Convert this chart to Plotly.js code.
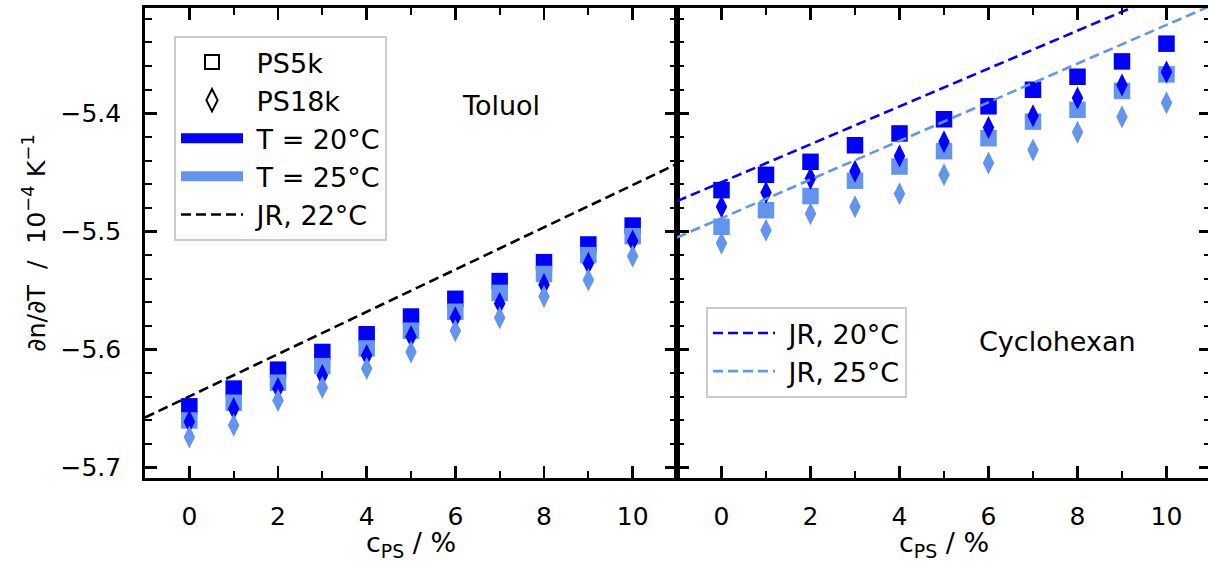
<!DOCTYPE html>
<html>
<head>
<meta charset="utf-8">
<script src="https://cdn.plot.ly/plotly-3.0.1.min.js"></script>
<style>
  html, body { margin: 0; padding: 0; overflow: hidden; background: #fff; }
</style>
</head>
<body>
<div id="chart" style="width:1211px;height:562px"></div>
<script>
// polystyrene concentration c_PS in %
const cps = [0, 1, 2, 3, 4, 5, 6, 7, 8, 9, 10];

// Toluol: dn/dT in 1e-4 K^-1
const tolPS5k20  = [-5.648, -5.633, -5.617, -5.602, -5.587, -5.572, -5.557, -5.542, -5.526, -5.511, -5.495];
const tolPS5k25  = [-5.660, -5.645, -5.628, -5.614, -5.599, -5.584, -5.568, -5.552, -5.536, -5.520, -5.504];
const tolPS18k20 = [-5.661, -5.650, -5.633, -5.622, -5.605, -5.589, -5.573, -5.561, -5.545, -5.527, -5.508];
const tolPS18k25 = [-5.674, -5.664, -5.643, -5.632, -5.616, -5.602, -5.584, -5.573, -5.555, -5.541, -5.521];

// Cyclohexan: dn/dT in 1e-4 K^-1
const cycPS5k20  = [-5.465, -5.452, -5.441, -5.427, -5.417, -5.405, -5.394, -5.380, -5.369, -5.356, -5.341];
const cycPS5k25  = [-5.496, -5.482, -5.470, -5.457, -5.445, -5.432, -5.421, -5.407, -5.397, -5.381, -5.367];
const cycPS18k20 = [-5.479, -5.467, -5.455, -5.449, -5.436, -5.424, -5.412, -5.402, -5.387, -5.376, -5.365];
const cycPS18k25 = [-5.510, -5.499, -5.485, -5.479, -5.468, -5.452, -5.442, -5.431, -5.416, -5.403, -5.391];

// literature reference lines (JR), evaluated at the ends of the c_PS axis
const jrX      = [-1, 11];
const tolJR22  = [-5.6575, -5.4428];
const cycJR20  = [-5.4743, -5.2819];
const cycJR25  = [-5.5051, -5.3088];

// tick labels of the axes
const xTickVals = [0, 2, 4, 6, 8, 10];
const yTickVals = [-5.7, -5.6, -5.5, -5.4];

const FONT = 'DejaVu Sans, Verdana, sans-serif';
const BLUE = '#0000ff';
const LIGHT = '#6495ed';
const SQ = 16.5, DI = 16.5;
const TXT = 27;
const GAP = '\u00a0';   // small gap between legend symbol and label

function markers(xa, ya, y, symbol, size, color) {
  return {
    type: 'scatter', mode: 'markers', x: cps, y: y, xaxis: xa, yaxis: ya,
    marker: { symbol: symbol, size: size, color: color, line: { width: 0 } },
    showlegend: false, hoverinfo: 'skip'
  };
}
function jrLine(xa, ya, y, color) {
  return {
    type: 'scatter', mode: 'lines', x: jrX, y: y, xaxis: xa, yaxis: ya,
    line: { color: color, width: 2.6, dash: '10px,5px' },
    showlegend: false, hoverinfo: 'skip'
  };
}
function legendEntry(name, legend, extra) {
  return Object.assign({
    type: 'scatter', x: [null], y: [null], name: GAP + name, legend: legend,
    showlegend: true, hoverinfo: 'skip'
  }, extra);
}

const traces = [
  // Toluol panel
  markers('x', 'y', tolPS5k20, 'square', SQ, BLUE),
  markers('x', 'y', tolPS5k25, 'square', SQ, LIGHT),
  markers('x', 'y', tolPS18k20, 'diamond-tall', DI, BLUE),
  markers('x', 'y', tolPS18k25, 'diamond-tall', DI, LIGHT),
  jrLine('x', 'y', tolJR22, '#000000'),
  // Cyclohexan panel
  markers('x2', 'y2', cycPS5k20, 'square', SQ, BLUE),
  markers('x2', 'y2', cycPS5k25, 'square', SQ, LIGHT),
  markers('x2', 'y2', cycPS18k20, 'diamond-tall', DI, BLUE),
  markers('x2', 'y2', cycPS18k25, 'diamond-tall', DI, LIGHT),
  jrLine('x2', 'y2', cycJR20, BLUE),
  jrLine('x2', 'y2', cycJR25, LIGHT),

  // legend of the Toluol panel
  legendEntry('PS5k', 'legend', { mode: 'markers',
    marker: { symbol: 'square-open', size: 14, color: '#000', line: { width: 2 } } }),
  legendEntry('PS18k', 'legend', { mode: 'markers',
    marker: { symbol: 'diamond-tall-open', size: 16, color: '#000', line: { width: 2 } } }),
  legendEntry('T = 20°C', 'legend', { mode: 'lines', line: { color: BLUE, width: 12 } }),
  legendEntry('T = 25°C', 'legend', { mode: 'lines', line: { color: LIGHT, width: 12 } }),
  legendEntry('JR, 22°C', 'legend', { mode: 'lines',
    line: { color: '#000', width: 2.6, dash: '10px,5px' } }),

  // legend of the Cyclohexan panel
  legendEntry('JR, 20°C', 'legend2', { mode: 'lines',
    line: { color: BLUE, width: 2.6, dash: '10px,5px' } }),
  legendEntry('JR, 25°C', 'legend2', { mode: 'lines',
    line: { color: LIGHT, width: 2.6, dash: '10px,5px' } })
];

const W = 1211, H = 562;
const L = 145, R = 0, T = 8, B = 84;
const plotW = W - L - R;
const split = 532 / plotW;

function xAxis(domain, anchor) {
  return {
    domain: domain, anchor: anchor, range: [-1, 11],
    tickmode: 'array', tickvals: xTickVals,
    ticks: 'inside', ticklen: 12, tickwidth: 2.8, tickcolor: '#000',
    showline: true, linewidth: 2.8, linecolor: '#000', mirror: 'ticks',
    showgrid: false, zeroline: false,
    minor: { dtick: 1, tick0: 0, ticks: 'inside', ticklen: 7, tickwidth: 2, tickcolor: '#000', showgrid: false },
    tickfont: { size: 25, color: '#000' }, ticklabelstandoff: 14,
    title: { text: 'c<sub>PS</sub> / %', font: { size: TXT, color: '#000' }, standoff: 10 },
    automargin: false, fixedrange: true
  };
}
function yAxis(anchor, labels) {
  return {
    anchor: anchor, range: [-5.7087, -5.3108],
    tickmode: 'array', tickvals: yTickVals, showticklabels: labels,
    ticks: 'inside', ticklen: 12, tickwidth: 2.8, tickcolor: '#000',
    showline: true, linewidth: 2.8, linecolor: '#000', mirror: 'ticks',
    showgrid: false, zeroline: false,
    minor: { dtick: 0.02, tick0: -5.7, ticks: 'inside', ticklen: 7, tickwidth: 2, tickcolor: '#000', showgrid: false },
    tickfont: { size: 25, color: '#000' }, ticklabelstandoff: 16,
    automargin: false, fixedrange: true
  };
}

const yMain = yAxis('x', true);
yMain.title = { text: '\u2202n/\u2202T\u00a0 /\u00a0 10<sup>\u22124</sup> K<sup>\u22121</sup>', font: { size: 25.5, color: '#000' }, standoff: 8 };
const y2 = yAxis('x2', false);
y2.matches = 'y';

const legendBase = {
  xref: 'paper', yref: 'paper', xanchor: 'left', yanchor: 'top',
  bgcolor: '#ffffff', bordercolor: '#cccccc', borderwidth: 2,
  font: { size: TXT, color: '#000' }, itemwidth: 62, tracegroupgap: 0
};

const layout = {
  width: W, height: H,
  margin: { l: L, r: R, t: T, b: B },
  paper_bgcolor: '#fff', plot_bgcolor: '#fff',
  font: { family: FONT, size: 25, color: '#000' },
  xaxis: xAxis([0, split], 'y'),
  xaxis2: xAxis([split, 1], 'y2'),
  yaxis: yMain,
  yaxis2: y2,
  legend: Object.assign({ x: (174 - L) / plotW, y: (478 - 36) / 470 }, legendBase),
  legend2: Object.assign({ x: (706 - L) / plotW, y: (478 - 307) / 470 }, legendBase),
  annotations: [
    { text: 'Toluol', xref: 'paper', yref: 'paper', x: (501 - L) / plotW, y: (478 - 105) / 470,
      showarrow: false, font: { size: TXT, color: '#000' }, xanchor: 'center', yanchor: 'middle' },
    { text: 'Cyclohexan', xref: 'paper', yref: 'paper', x: (1057 - L) / plotW, y: (478 - 341) / 470,
      showarrow: false, font: { size: TXT, color: '#000' }, xanchor: 'center', yanchor: 'middle' }
  ],
  showlegend: true
};

Plotly.newPlot('chart', traces, layout, { displayModeBar: false, staticPlot: true });
</script>
</body>
</html>
